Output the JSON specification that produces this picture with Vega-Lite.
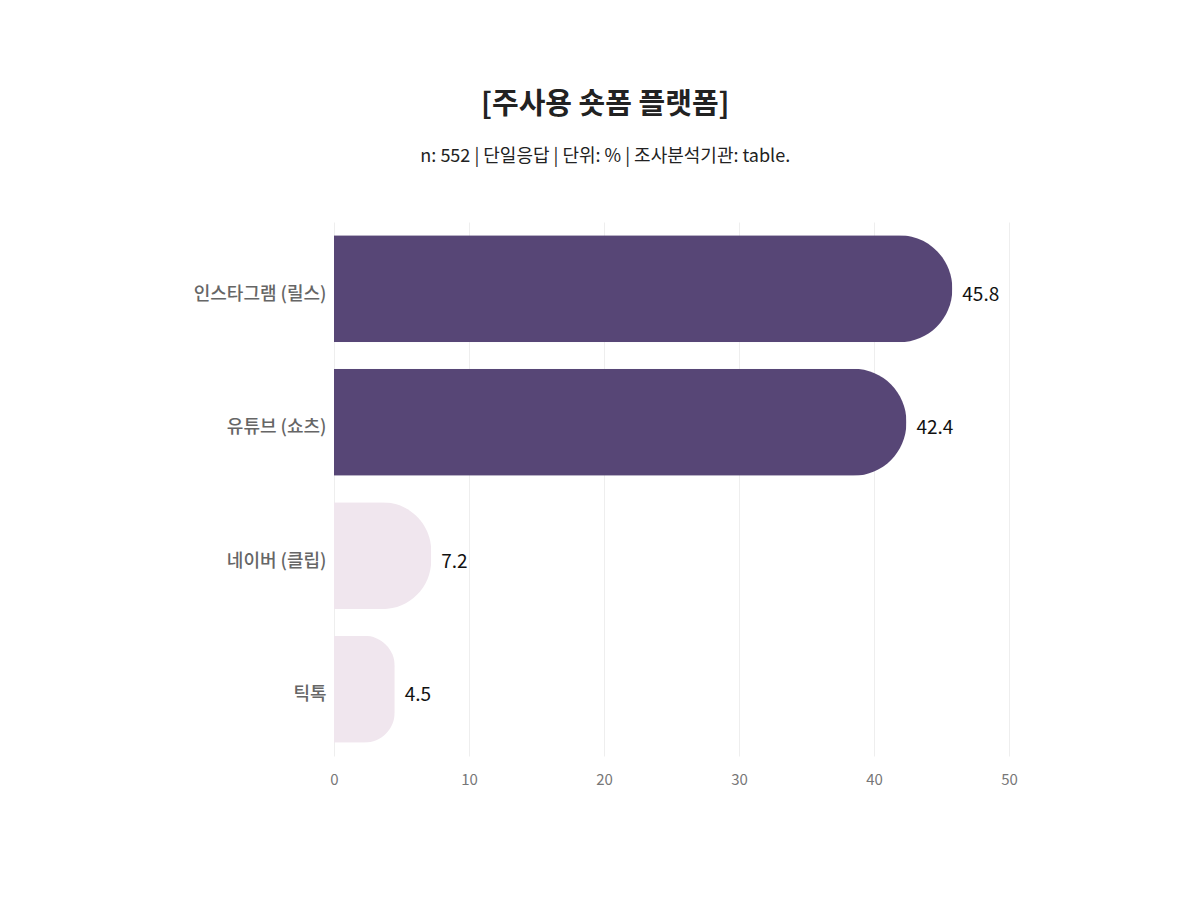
{
  "$schema": "https://vega.github.io/schema/vega-lite/v6.json",
  "width": 675,
  "height": 534,
  "padding": {"left": 193, "top": 91, "right": 20, "bottom": 20},
  "background": "white",
  "config": {
    "font": "Noto Sans CJK KR",
    "view": {"stroke": null}
  },
  "title": {
    "text": "[주사용 숏폼 플랫폼]",
    "subtitle": "n: 552 |  단일응답 | 단위: % | 조사분석기관: table.",
    "fontSize": 29,
    "fontWeight": "bold",
    "color": "#222222",
    "subtitleFontSize": 18,
    "subtitleColor": "#222222",
    "subtitlePadding": 28,
    "offset": 56,
    "anchor": "middle",
    "frame": "bounds"
  },
  "data": {
    "values": [
      {"platform": "인스타그램 (릴스)", "value": 45.8, "group": "top"},
      {"platform": "유튜브 (쇼츠)", "value": 42.4, "group": "top"},
      {"platform": "네이버 (클립)", "value": 7.2, "group": "other"},
      {"platform": "틱톡", "value": 4.5, "group": "other"}
    ]
  },
  "encoding": {
    "y": {
      "field": "platform",
      "type": "nominal",
      "sort": null,
      "scale": {"paddingInner": 0.2, "paddingOuter": 0.1},
      "axis": {
        "title": null,
        "ticks": false,
        "domain": false,
        "labelFontSize": 18,
        "labelColor": "#666666",
        "labelFontWeight": 500,
        "labelPadding": 8,
        "labelOffset": 6
      }
    },
    "x": {
      "field": "value",
      "type": "quantitative",
      "scale": {"domain": [0, 50]},
      "axis": {
        "title": null,
        "ticks": false,
        "domain": false,
        "values": [0, 10, 20, 30, 40, 50],
        "labelFlush": false,
        "labelFontSize": 15,
        "labelColor": "#777777",
        "labelPadding": 16,
        "gridColor": "#eeeeee",
        "gridWidth": 1
      }
    }
  },
  "layer": [
    {
      "mark": {"type": "bar", "cornerRadiusEnd": 53},
      "encoding": {
        "color": {
          "field": "group",
          "type": "nominal",
          "scale": {"domain": ["top", "other"], "range": ["#574676", "#f0e6ee"]},
          "legend": null
        }
      }
    },
    {
      "mark": {"type": "text", "align": "left", "dx": 10, "dy": 6, "fontSize": 19, "color": "#111111"},
      "encoding": {
        "text": {"field": "value", "type": "quantitative", "format": ".1f"}
      }
    }
  ]
}
